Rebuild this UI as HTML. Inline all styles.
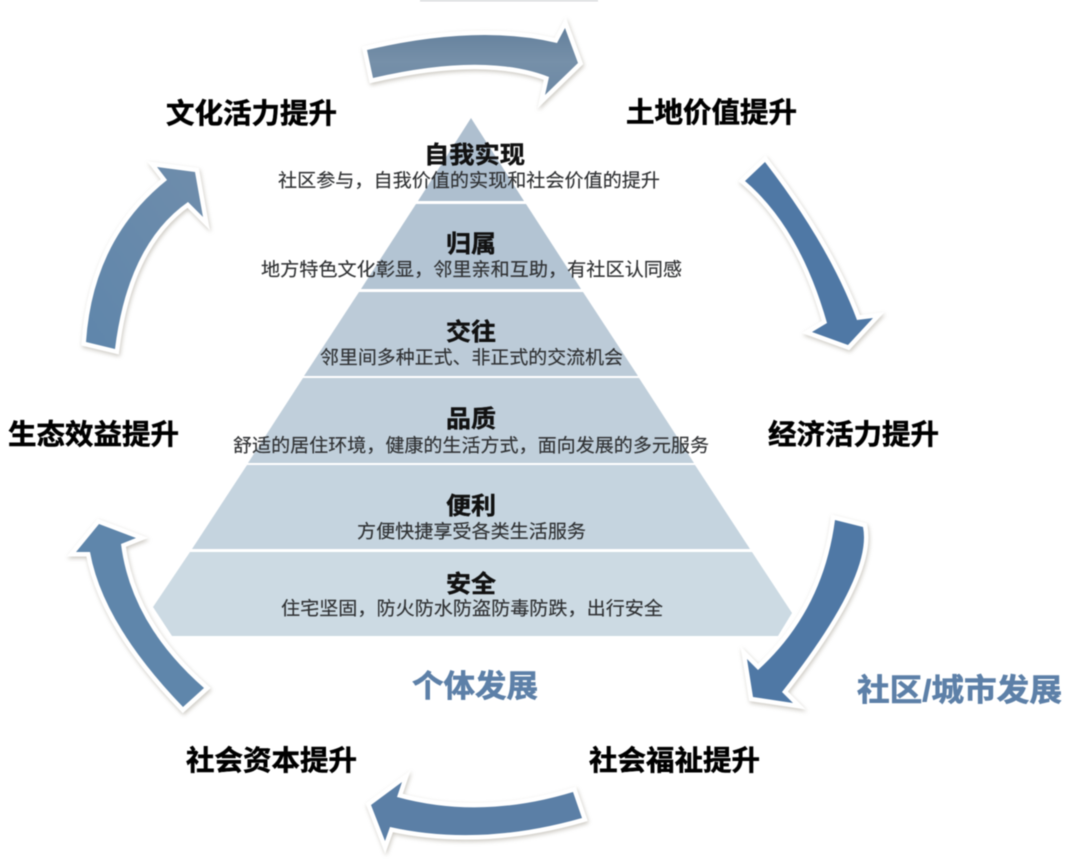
<!DOCTYPE html>
<html lang="zh-CN">
<head>
<meta charset="utf-8">
<title>社区发展金字塔</title>
<style>
html,body{margin:0;padding:0;background:#fff;width:1080px;height:859px;overflow:hidden}
svg{display:block;position:absolute;left:0;top:0;filter:blur(.45px)}
text{font-family:"Liberation Sans","Noto Sans CJK SC","WenQuanYi Zen Hei",sans-serif}
.l{font-size:28px;font-weight:700;fill:#000;stroke:#000;stroke-width:.5}
.t{font-size:24px;font-weight:700;fill:#111;stroke:#111;stroke-width:.4}
.s{font-size:18.5px;fill:#2f3133;stroke:#2f3133;stroke-width:.15}
.b{font-size:31px;font-weight:700;fill:#5d80a8;stroke:#5d80a8;stroke-width:.6}
.a{stroke:#fff;stroke-width:9;stroke-linejoin:miter;stroke-miterlimit:6;paint-order:stroke fill;filter:drop-shadow(1px 2px 2px rgba(110,100,80,.35))}
</style>
</head>
<body>
<svg width="1080" height="859" viewBox="0 0 1080 859" xmlns="http://www.w3.org/2000/svg">
<defs>
<linearGradient id="g1" x1="0" y1="0" x2="0" y2="1"><stop offset="0" stop-color="#64809c"/><stop offset=".5" stop-color="#7690a9"/><stop offset="1" stop-color="#6c88a4"/></linearGradient>
<linearGradient id="g6" x1="0" y1="1" x2="1" y2="0"><stop offset="0" stop-color="#5f86ab"/><stop offset="1" stop-color="#6f8dab"/></linearGradient>
</defs>
<rect x="420" y="0" width="178" height="1.5" fill="#d8dadc"/>

<!-- pyramid -->
<polygon points="471,118 524,201 418,201" fill="#aebfcf"/>
<polygon points="416,204 526,204 581,289 361,289" fill="#b3c4d3"/>
<polygon points="359,292 583,292 638,376 304,376" fill="#bccbd8"/>
<polygon points="303,378 639,378 694,463 248,463" fill="#c0cfdb"/>
<polygon points="247,465 695,465 750,549 192,549" fill="#c5d4df"/>
<polygon points="190,552 752,552 792,613 778,636 172,636 153,607" fill="#ccdae3"/>

<!-- arrows -->
<path class="a" fill="url(#g1)" d="M367,50 Q478,24 557,43 L565,28 L578,63 L545,95 L549,77 Q485,52 373,78 Z"/>
<path class="a" fill="#4f78a5" d="M765,162 Q829,245 857,320 L873,318 L848,345 L812,332 L827,323 Q800,228 745,181 Z"/>
<path class="a" fill="#4f78a5" d="M835,520 L863,527 Q873,576 782,692 L793,703 L753,697 L747,659 L758,670 Q823,611 835,520 Z"/>
<path class="a" fill="#5b7fa6" d="M573,792 L582,818 Q480,847 390,827 L385,841 L371,805 L402,782 L397,797 Q481,820 573,792 Z"/>
<path class="a" fill="#5f86ab" d="M204,688 L183,707 Q103,624 90,552 L76,552 L99,524 L136,538 L121,544 Q131,624 204,688 Z"/>
<path class="a" fill="url(#g6)" d="M86,342 L115,349 Q128,244 188,202 L203,217 L195,172 L157,167 L167,180 Q93,239 86,342 Z"/>

<!-- outer labels -->
<text class="l" x="166" y="123" textLength="171" lengthAdjust="spacingAndGlyphs">文化活力提升</text>
<text class="l" x="626" y="122" textLength="171" lengthAdjust="spacingAndGlyphs">土地价值提升</text>
<text class="l" x="768" y="444" textLength="171" lengthAdjust="spacingAndGlyphs">经济活力提升</text>
<text class="l" x="8" y="444" textLength="171" lengthAdjust="spacingAndGlyphs">生态效益提升</text>
<text class="l" x="589" y="770" textLength="171" lengthAdjust="spacingAndGlyphs">社会福祉提升</text>
<text class="l" x="186" y="770" textLength="171" lengthAdjust="spacingAndGlyphs">社会资本提升</text>

<!-- pyramid text -->
<text class="t" x="424" y="163" textLength="101" lengthAdjust="spacingAndGlyphs">自我实现</text>
<text class="s" x="278" y="187" textLength="382" lengthAdjust="spacingAndGlyphs">社区参与，自我价值的实现和社会价值的提升</text>
<text class="t" x="446" y="252" textLength="50" lengthAdjust="spacingAndGlyphs">归属</text>
<text class="s" x="261" y="276" textLength="421" lengthAdjust="spacingAndGlyphs">地方特色文化彰显，邻里亲和互助，有社区认同感</text>
<text class="t" x="446" y="340" textLength="50" lengthAdjust="spacingAndGlyphs">交往</text>
<text class="s" x="320" y="364" textLength="303" lengthAdjust="spacingAndGlyphs">邻里间多种正式、非正式的交流机会</text>
<text class="t" x="446" y="427" textLength="50" lengthAdjust="spacingAndGlyphs">品质</text>
<text class="s" x="233" y="452" textLength="476" lengthAdjust="spacingAndGlyphs">舒适的居住环境，健康的生活方式，面向发展的多元服务</text>
<text class="t" x="446" y="514" textLength="50" lengthAdjust="spacingAndGlyphs">便利</text>
<text class="s" x="357" y="538" textLength="229" lengthAdjust="spacingAndGlyphs">方便快捷享受各类生活服务</text>
<text class="t" x="446" y="592" textLength="50" lengthAdjust="spacingAndGlyphs">安全</text>
<text class="s" x="281" y="615" textLength="382" lengthAdjust="spacingAndGlyphs">住宅坚固，防火防水防盗防毒防跌，出行安全</text>

<!-- blue labels -->
<text class="b" x="412" y="697" textLength="126" lengthAdjust="spacingAndGlyphs">个体发展</text>
<text class="b" x="857" y="701" textLength="205" lengthAdjust="spacingAndGlyphs">社区/城市发展</text>
</svg>
</body>
</html>
